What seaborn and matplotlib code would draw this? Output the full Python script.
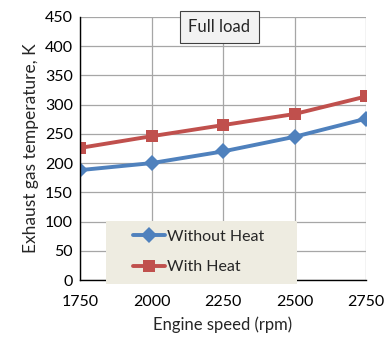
import matplotlib
matplotlib.use("Agg")
import matplotlib.pyplot as plt
import matplotlib.patches as mpatches
import seaborn as sns
import pandas as pd

speed = [1750, 2000, 2250, 2500, 2750]
without_heat = [188, 200, 220, 245, 276]
with_heat = [226, 246, 265, 284, 314]
series_names = ["Without Heat", "With Heat"]

sns.set_theme(style="whitegrid")
plt.rcParams['font.family'] = ['Lato', 'DejaVu Sans']

df = pd.DataFrame({
    "speed": speed * 2,
    "temp": without_heat + with_heat,
    "series": [series_names[0]] * 5 + [series_names[1]] * 5,
})

W, H = 386, 340
fig = plt.figure(figsize=(W/100, H/100), dpi=100)
ax = fig.add_axes([80/W, 1 - 280/H, (366-80)/W, (280-17)/H])

palette = {series_names[0]: "#4F81BD", series_names[1]: "#C0504D"}
markers = {series_names[0]: "D", series_names[1]: "s"}
sns.lineplot(data=df, x="speed", y="temp", hue="series", style="series",
             markers=markers, dashes=False, palette=palette, ax=ax,
             linewidth=2.8, markersize=8, markeredgewidth=0)

ax.set_xlim(1750, 2750)
ax.set_ylim(0, 450)
ax.set_xticks(speed)
ax.set_yticks(range(0, 451, 50))
ax.grid(True, color="#A6A6A6", linewidth=0.9)
for s in ["top", "right"]:
    ax.spines[s].set_visible(False)
for s in ["left", "bottom"]:
    ax.spines[s].set_color("#000000")
    ax.spines[s].set_linewidth(1.0)
ax.tick_params(axis="both", labelsize=11.5, colors="#000000", length=6, width=1,
               direction="inout", pad=2)
ax.tick_params(axis="x", pad=8)
ax.set_xlabel("Engine speed (rpm)", fontsize=12, labelpad=5)
ax.set_ylabel("Exhaust gas temperature, K", fontsize=12.5, labelpad=4)

# legend background box
rect = mpatches.Rectangle((106/W, 1 - 284/H), (297-106)/W, (284-221)/H,
                          transform=fig.transFigure, facecolor="#EEECE1",
                          edgecolor="none", zorder=4.5, clip_on=False)
ax.add_patch(rect)

leg = ax.legend(loc="center left", bbox_to_anchor=(133/W, 1 - 252/H),
                bbox_transform=fig.transFigure, frameon=False, fontsize=11.5,
                handlelength=2.0, handletextpad=0.15, borderpad=0, borderaxespad=0,
                labelspacing=1.0)
leg.set_zorder(5)
leg.set_title(None)

fig.text((174+265)/2/W, 1 - 27/H, "Full load", ha="center", va="center", fontsize=12,
         bbox=dict(boxstyle="square,pad=0.5", facecolor="#F2F2F2", edgecolor="#404040", linewidth=0.8))

fig.savefig("out.png", dpi=100)
